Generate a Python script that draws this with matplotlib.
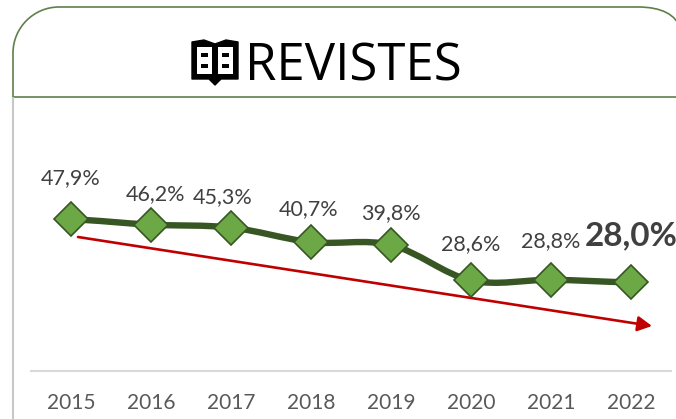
import matplotlib
matplotlib.use("Agg")
import matplotlib.pyplot as plt
from matplotlib.path import Path
from matplotlib.patches import PathPatch, Rectangle, Polygon

years = ["2015", "2016", "2017", "2018", "2019", "2020", "2021", "2022"]
values = [47.9, 46.2, 45.3, 40.7, 39.8, 28.6, 28.8, 28.0]
labels = ["47,9%", "46,2%", "45,3%", "40,7%", "39,8%", "28,6%", "28,8%", "28,0%"]
title = "REVISTES"

W, H = 676, 419
GREEN = "#375623"
FILL = "#6CA846"
FRAME = "#5F7F4C"
FONT = "Lato"

fig = plt.figure(figsize=(W / 100, H / 100), dpi=100)

# Overlay in pixel coordinates for the card decoration
deco = fig.add_axes([0, 0, 1, 1], zorder=0)
deco.set_xlim(0, W)
deco.set_ylim(H, 0)
deco.axis("off")

deco.plot([13, 13], [97, H], color="#C8C8C8", lw=1.5, solid_capstyle="butt")
r, k = 46, 0.45
card = Path(
    [(13, 97), (13, 7 + r), (13, 7 + r * k), (13 + r * k, 7), (13 + r, 7), (638, 7),
     (662, 7), (676, 15), (680, 28), (13, 97), (676, 97)],
    [Path.MOVETO, Path.LINETO, Path.CURVE4, Path.CURVE4, Path.CURVE4, Path.LINETO,
     Path.CURVE4, Path.CURVE4, Path.CURVE4, Path.MOVETO, Path.LINETO],
)
deco.add_patch(PathPatch(card, fc="none", ec=FRAME, lw=1.2))

# Book icon
deco.add_patch(Polygon([(192, 42), (204, 40), (215, 44), (226, 40), (238, 42), (238, 79),
                        (221, 79), (215, 85), (209, 79), (192, 79)],
                       closed=True, fc="black", ec="black", lw=1, joinstyle="round"))
for x0, x1 in [(197, 212), (218, 233)]:
    deco.add_patch(Polygon([(x0, 47), (x1, 47), (x1, 74), (x0, 74)],
                           closed=True, fc="white", ec="none"))
for x0 in (201, 222):
    for y0 in (53, 64):
        deco.add_patch(Rectangle((x0, y0), 7, 4.5, fc="black", ec="none"))
deco.text(244.5, 61, title, fontsize=36.6, family="Open Sans", color="black",
          ha="left", va="center_baseline")

# Red trend arrow
deco.annotate("", xy=(652, 326), xytext=(78, 237),
              arrowprops=dict(arrowstyle="-|>,head_length=0.85,head_width=0.45",
                              color="#C00000", lw=1.9, shrinkA=0, shrinkB=0))

# Chart
ax = fig.add_axes([31 / W, 1 - 371 / H, 640 / W, 190 / H], zorder=1)
ax.patch.set_alpha(0)
ax.set_xlim(-0.5, len(years) - 0.5)
ax.set_ylim(0, 60)
ax.set_yticks([])
ax.set_xticks(range(len(years)), years)
ax.tick_params(axis="x", length=0, pad=16, labelsize=15, labelcolor="#595959")
for lab in ax.get_xticklabels():
    lab.set_family(FONT)
for s in ("top", "left", "right"):
    ax.spines[s].set_visible(False)
ax.spines["bottom"].set_color("#D9D9D9")
ax.spines["bottom"].set_linewidth(1.5)

# Smoothed line built from the values
xs = list(range(len(values)))
verts, codes = [(xs[0], values[0])], [Path.MOVETO]
for i in range(len(values) - 1):
    p0 = values[max(i - 1, 0)]
    p1, p2 = values[i], values[i + 1]
    p3 = values[min(i + 2, len(values) - 1)]
    verts += [(i + 1 / 3, p1 + (p2 - p0) / 6), (i + 2 / 3, p2 - (p3 - p1) / 6), (i + 1, p2)]
    codes += [Path.CURVE4] * 3
ax.add_patch(PathPatch(Path(verts, codes), fc="none", ec=GREEN, lw=4.6, capstyle="round", zorder=2))
ax.plot(xs, values, ls="none", marker="D", ms=17.5, mfc=FILL, mec=GREEN, mew=1.2, zorder=3, clip_on=False)

offsets_x = [0, 5, -8, -2, 0, 0, 0, 0]
offsets_y = [41, 31, 30, 33, 32, 36, 39, 47]
for i, (v, lab) in enumerate(zip(values, labels)):
    last = i == len(values) - 1
    ax.annotate(lab, (i, v), xytext=(offsets_x[i], offsets_y[i]), textcoords="offset pixels",
                ha="center", va="center", family=FONT, color="#404040",
                fontsize=24 if last else 15.5, fontweight="bold" if last else "normal",
                annotation_clip=False, zorder=4)

fig.savefig("out.png", dpi=100)
